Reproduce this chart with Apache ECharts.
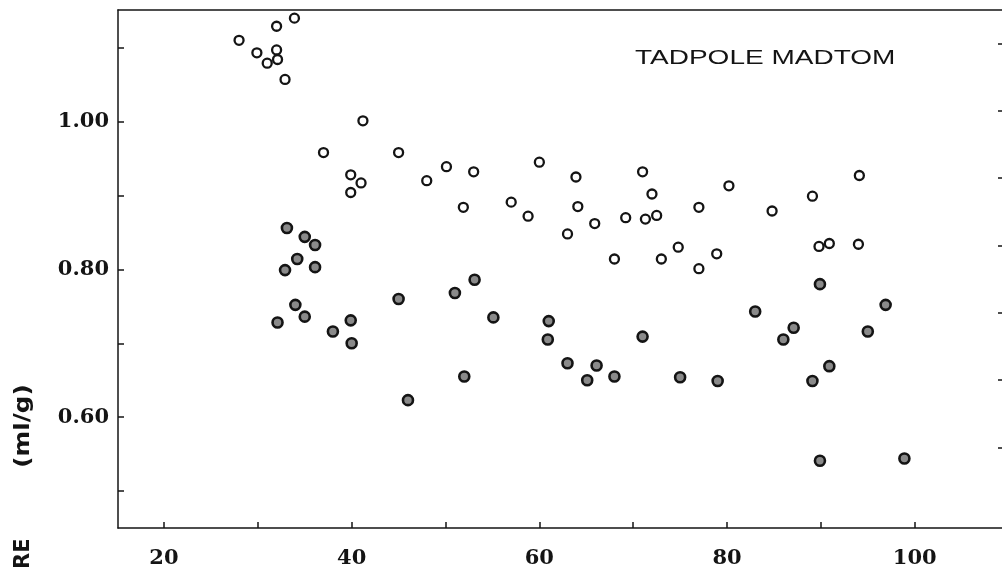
<!DOCTYPE html>
<html>
<head>
<meta charset="utf-8">
<script src="https://cdn.jsdelivr.net/npm/echarts@6/dist/echarts.min.js"></script>
<style>
  html, body { margin: 0; padding: 0; background: #fff; }
  #chart { width: 1002px; height: 576px; }
</style>
</head>
<body>
<div id="chart"></div>
<script>
// open circles (upper group)
const openCircles = [
  [28.0, 1.110], [29.9, 1.093], [31.0, 1.079], [32.0, 1.129], [32.0, 1.097],
  [32.1, 1.084], [32.9, 1.057], [33.9, 1.140], [41.2, 1.001], [37.0, 0.958],
  [45.0, 0.958], [39.9, 0.928], [41.0, 0.917], [39.9, 0.904], [48.0, 0.920],
  [50.1, 0.939], [53.0, 0.932], [51.9, 0.884], [60.0, 0.945], [63.9, 0.925],
  [57.0, 0.891], [58.8, 0.872], [64.1, 0.885], [63.0, 0.848], [65.9, 0.862],
  [71.0, 0.932], [72.0, 0.902], [80.2, 0.913], [69.2, 0.870], [71.3, 0.868],
  [72.5, 0.873], [77.0, 0.884], [68.0, 0.814], [73.0, 0.814], [74.8, 0.830],
  [78.9, 0.821], [77.0, 0.801], [94.1, 0.927], [89.1, 0.899], [84.8, 0.879],
  [89.8, 0.831], [90.9, 0.835], [94.0, 0.834],
];

// filled (shaded) circles (lower group)
const filledCircles = [
  [33.1, 0.856], [35.0, 0.844], [36.1, 0.833], [34.2, 0.814], [32.9, 0.799],
  [36.1, 0.803], [53.1, 0.786], [51.0, 0.768], [45.0, 0.760], [34.0, 0.752],
  [35.0, 0.736], [32.1, 0.728], [39.9, 0.731], [38.0, 0.716], [40.0, 0.700],
  [52.0, 0.655], [46.0, 0.623], [55.1, 0.735], [61.0, 0.730], [60.9, 0.705],
  [71.0, 0.709], [63.0, 0.673], [66.1, 0.670], [65.1, 0.650], [68.0, 0.655],
  [75.0, 0.654], [79.0, 0.649], [89.9, 0.780], [96.9, 0.752], [83.0, 0.743],
  [87.1, 0.721], [86.0, 0.705], [95.0, 0.716], [90.9, 0.669], [89.1, 0.649],
  [89.9, 0.541], [98.9, 0.544],
];

const xTicks = [20, 30, 40, 50, 60, 70, 80, 90, 100];
const xLabels = [20, 40, 60, 80, 100];
const yTicks = [0.5, 0.6, 0.7, 0.8, 0.9, 1.0, 1.1];
const yLabels = [0.6, 0.8, 1.0];
const rightTicks = [1.2, 2.2, 3.2, 4.2, 5.2, 6.2, 7.2];

const title = 'TADPOLE MADTOM';
const yName = '(ml/g)';

const ink = '#141414';
const labelFont = {
  color: ink,
  fontFamily: 'DejaVu Serif',
  fontWeight: 'bold',
  fontSize: 21,
};

const chart = echarts.init(document.getElementById('chart'));

const option = {
  backgroundColor: '#fff',
  animation: false,
  grid: {
    left: 118,
    right: 0,
    top: 10,
    bottom: 48,
  },
  xAxis: [
    {
      type: 'value',
      min: 15.1,
      max: 109.3,
      axisLine: { show: true, lineStyle: { color: ink, width: 1.5 } },
      axisTick: {
        show: true,
        inside: true,
        length: 6,
        customValues: xTicks,
        lineStyle: { color: ink, width: 1.5 },
      },
      axisLabel: {
        ...labelFont,
        margin: 20,
        customValues: xLabels,
      },
      splitLine: { show: false },
    },
    {
      // top frame line only
      type: 'value',
      position: 'top',
      min: 15.1,
      max: 109.3,
      axisLine: { show: true, lineStyle: { color: ink, width: 1.5 } },
      axisTick: { show: false },
      axisLabel: { show: false },
      splitLine: { show: false },
    },
  ],
  yAxis: [
    {
      type: 'value',
      min: 0.45,
      max: 1.151,
      axisLine: { show: true, lineStyle: { color: ink, width: 1.5 } },
      axisTick: {
        show: true,
        inside: true,
        length: 6,
        customValues: yTicks,
        lineStyle: { color: ink, width: 1.5 },
      },
      axisLabel: {
        ...labelFont,
        margin: 9,
        customValues: yLabels,
        formatter: (v) => Number(v).toFixed(2),
      },
      splitLine: { show: false },
    },
    {
      // right edge: ticks only, the frame itself is cropped off
      type: 'value',
      position: 'right',
      min: 0,
      max: 7.698,
      axisLine: { show: false },
      axisTick: {
        show: true,
        inside: true,
        length: 4,
        customValues: rightTicks,
        lineStyle: { color: ink, width: 1.5 },
      },
      axisLabel: { show: false },
      splitLine: { show: false },
    },
  ],
  graphic: [
    {
      type: 'text',
      x: 635,
      y: 58,
      scaleX: 1.4,
      style: {
        text: title,
        font: '20px "Liberation Sans"',
        fill: ink,
        align: 'left',
        verticalAlign: 'middle',
      },
    },
    {
      type: 'text',
      x: 23,
      y: 426,
      rotation: Math.PI / 2,
      scaleX: 1.12,
      style: {
        text: yName,
        font: 'bold 22px "DejaVu Sans"',
        fill: ink,
        align: 'center',
        verticalAlign: 'middle',
      },
    },
    {
      type: 'text',
      x: 24,
      y: 569,
      rotation: Math.PI / 2,
      style: {
        text: 'RE',
        font: 'bold 21px "DejaVu Sans"',
        fill: ink,
        align: 'left',
        verticalAlign: 'middle',
      },
    },
  ],
  series: [
    {
      name: 'open',
      type: 'scatter',
      data: openCircles,
      symbol: 'circle',
      symbolSize: 9,
      itemStyle: {
        color: '#fff',
        borderColor: ink,
        borderWidth: 2.3,
        opacity: 1,
      },
    },
    {
      name: 'filled',
      type: 'scatter',
      data: filledCircles,
      symbol: 'circle',
      symbolSize: 10,
      itemStyle: {
        color: '#8a8a8a',
        borderColor: ink,
        borderWidth: 2.6,
        opacity: 1,
      },
    },
  ],
};

chart.setOption(option, true);
</script>
</body>
</html>
